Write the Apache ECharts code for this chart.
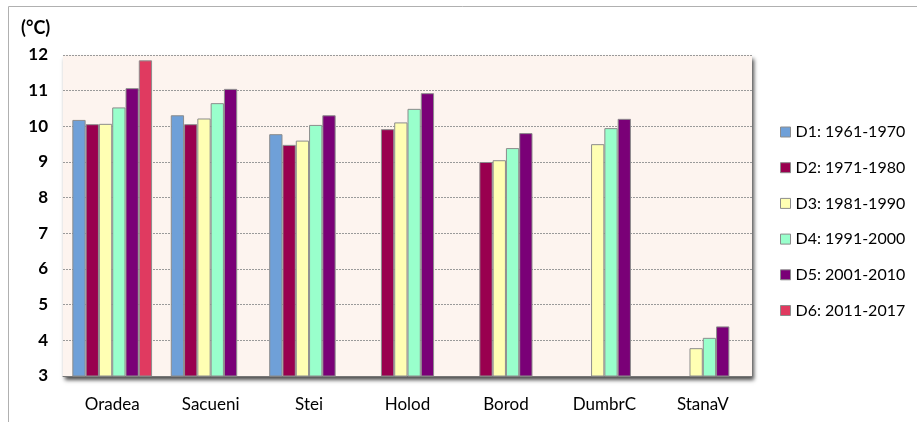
<!DOCTYPE html>
<html>
<head>
<meta charset="utf-8">
<script src="https://cdn.jsdelivr.net/npm/echarts@6/dist/echarts.min.js"></script>
<style>
  html, body { margin: 0; padding: 0; background: #fff; }
  #chart { width: 917px; height: 422px; }
</style>
</head>
<body>
<div id="chart"></div>
<script>
// statii
var stations = ['Oradea', 'Sacueni', 'Stei', 'Holod', 'Borod', 'DumbrC', 'StanaV'];
var periods = ['D1: 1961-1970', 'D2: 1971-1980', 'D3: 1981-1990', 'D4: 1991-2000', 'D5: 2001-2010', 'D6: 2011-2017'];
// temperatura medie (°C) pe decenii
var d1 = [10.18, 10.31, 9.78, null, null, null, null];
var d2 = [10.06, 10.06, 9.48, 9.92, 9.0, null, null];
var d3 = [10.07, 10.22, 9.6, 10.11, 9.05, 9.5, 3.78];
var d4 = [10.53, 10.65, 10.04, 10.49, 9.39, 9.95, 4.07];
var d5 = [11.07, 11.05, 10.31, 10.93, 9.81, 10.21, 4.39];
var d6 = [11.85, null, null, null, null, null, null];

var colors = ['#6fa0d8', '#99004f', '#ffffb3', '#99ffcc', '#7a0077', '#e03a60'];
var font = 'Lato';

var chart = echarts.init(document.getElementById('chart'));

function bar(name, data) {
    return {
        name: name,
        type: 'bar',
        data: data,
        barGap: '0%',
        barCategoryGap: '19%',
        itemStyle: {
            borderColor: '#8c8c8c',
            borderWidth: 1
        }
    };
}

var option = {
    color: colors,
    animation: false,
    textStyle: { fontFamily: font },
    graphic: [
        {
            type: 'polyline',
            shape: { points: [[8.5, 422], [8.5, 6.5], [917, 6.5]] },
            style: { stroke: '#b0b0b0', lineWidth: 1, fill: null }
        },
        {
            type: 'text',
            left: 21,
            top: 19,
            style: { text: '(°C)', font: 'bold 18px Lato', fill: '#000' }
        }
    ],
    grid: {
        left: 63,
        top: 55,
        right: 165,
        bottom: 46,
        show: true,
        backgroundColor: '#fdf4ef',
        borderWidth: 0,
        shadowColor: 'rgba(0,0,0,0.7)',
        shadowBlur: 4,
        shadowOffsetX: 2,
        shadowOffsetY: 4
    },
    legend: {
        orient: 'vertical',
        left: 775,
        top: 118,
        itemWidth: 10,
        itemHeight: 10,
        itemGap: 17.7,
        icon: 'rect',
        itemStyle: { borderColor: '#8c8c8c', borderWidth: 1 },
        textStyle: { fontFamily: font, fontSize: 16, color: '#000', lineHeight: 18 },
        data: periods
    },
    xAxis: {
        type: 'category',
        data: stations,
        axisLine: { show: true, lineStyle: { color: '#777', width: 1 } },
        axisTick: { show: false },
        axisLabel: { color: '#000', fontSize: 17, fontFamily: font, margin: 20 }
    },
    yAxis: {
        type: 'value',
        min: 3,
        max: 12,
        interval: 1,
        axisLine: { show: false },
        axisTick: { show: false },
        axisLabel: { color: '#000', fontSize: 17, fontWeight: 'bold', fontFamily: font, margin: 15 },
        splitLine: { show: true, lineStyle: { color: '#9a9a9a', type: [2, 1], width: 1 } }
    },
    series: [
        bar(periods[0], d1),
        bar(periods[1], d2),
        bar(periods[2], d3),
        bar(periods[3], d4),
        bar(periods[4], d5),
        bar(periods[5], d6)
    ]
};

chart.setOption(option);
window.addEventListener('resize', function () {
    chart.resize();
});
</script>
</body>
</html>
